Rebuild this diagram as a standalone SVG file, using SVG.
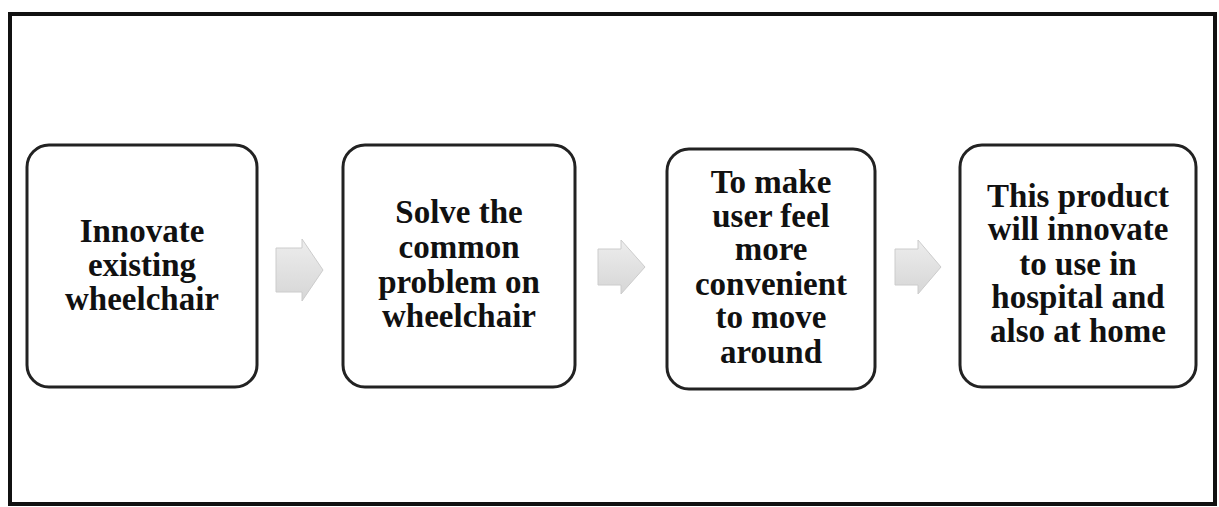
<svg xmlns="http://www.w3.org/2000/svg" width="1219" height="507" viewBox="0 0 1219 507">
<defs>
<linearGradient id="ag" x1="0" y1="0" x2="0" y2="1">
<stop offset="0" stop-color="#ededed"/>
<stop offset="1" stop-color="#d6d6d6"/>
</linearGradient>
<style>
.frame{fill:none;stroke:#111;stroke-width:4}
.box{fill:#fff;stroke:#222;stroke-width:3}
.t{font-family:"Liberation Serif","Times New Roman",serif;font-weight:bold;font-size:33px;fill:#111;text-anchor:middle}
.arr{fill:url(#ag);stroke:#cccccc;stroke-width:1}
</style>
</defs>
<rect width="1219" height="507" fill="#fff"/>
<rect class="frame" x="10" y="14" width="1205" height="490"/>
<g id="connectors">
<path class="arr" d="M276,248 H302 V239 L323,270 L302,301 V292 H276 Z"/>
<path class="arr" d="M598,249 H621 V240 L645,267 L621,294 V285 H598 Z"/>
<path class="arr" d="M895,249 H918 V240 L941,267 L918,294 V285 H895 Z"/>
</g>
<g id="node1">
<rect class="box" x="27" y="145" width="230" height="242" rx="22"/>
<text class="t" x="142" y="242">Innovate</text>
<text class="t" x="142" y="276">existing</text>
<text class="t" x="142" y="310">wheelchair</text>
</g>
<g id="node2">
<rect class="box" x="343" y="145" width="232" height="242" rx="22"/>
<text class="t" x="459" y="223">Solve the</text>
<text class="t" x="459" y="258">common</text>
<text class="t" x="459" y="293">problem on</text>
<text class="t" x="459" y="327">wheelchair</text>
</g>
<g id="node3">
<rect class="box" x="667" y="149" width="208" height="240" rx="22"/>
<text class="t" x="771" y="193">To make</text>
<text class="t" x="771" y="227">user feel</text>
<text class="t" x="771" y="260">more</text>
<text class="t" x="771" y="295">convenient</text>
<text class="t" x="771" y="328">to move</text>
<text class="t" x="771" y="363">around</text>
</g>
<g id="node4">
<rect class="box" x="960" y="145" width="236" height="242" rx="22"/>
<text class="t" x="1078" y="207">This product</text>
<text class="t" x="1078" y="240">will innovate</text>
<text class="t" x="1078" y="275">to use in</text>
<text class="t" x="1078" y="308">hospital and</text>
<text class="t" x="1078" y="342">also at home</text>
</g>
</svg>
